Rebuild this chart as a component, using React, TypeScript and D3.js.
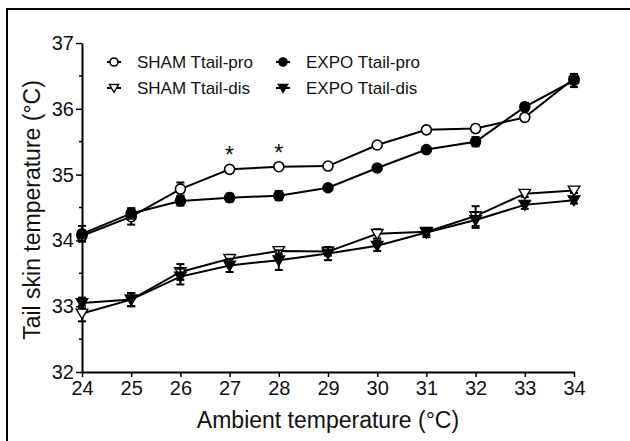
import { useEffect, useRef } from 'react'
import * as d3 from 'd3'

const ambient = [24, 25, 26, 27, 28, 29, 30, 31, 32, 33, 34]

const shamPro = [34.07, 34.36, 34.78, 35.08, 35.12, 35.13, 35.45, 35.68, 35.70, 35.87, 36.46]
const shamProErr = [0.08, 0.12, 0.1, 0.03, 0.03, 0.05, 0.03, 0.03, 0.05, 0.05, 0.06]
const expoPro = [34.1, 34.41, 34.6, 34.65, 34.68, 34.8, 35.1, 35.38, 35.5, 36.03, 36.43]
const expoProErr = [0.12, 0.08, 0.07, 0.06, 0.07, 0.03, 0.03, 0.03, 0.07, 0.06, 0.1]
const shamDis = [32.89, 33.1, 33.52, 33.72, 33.84, 33.83, 34.1, 34.13, 34.37, 34.71, 34.76]
const shamDisErr = [0.12, 0.1, 0.12, 0.05, 0.05, 0.06, 0.07, 0.05, 0.15, 0.05, 0.04]
const expoDis = [33.05, 33.1, 33.45, 33.62, 33.7, 33.8, 33.92, 34.12, 34.31, 34.54, 34.61]
const expoDisErr = [0.08, 0.1, 0.12, 0.1, 0.15, 0.1, 0.08, 0.07, 0.12, 0.06, 0.05]

const starAt = [27, 28]
const yTicks = [32, 33, 34, 35, 36, 37]
const yMinor = [32.5, 33.5, 34.5, 35.5, 36.5]

const series = [
  { name: 'SHAM Ttail-pro', values: shamPro, errs: shamProErr, shape: 'circle', filled: false },
  { name: 'SHAM Ttail-dis', values: shamDis, errs: shamDisErr, shape: 'triangle', filled: false },
  { name: 'EXPO Ttail-pro', values: expoPro, errs: expoProErr, shape: 'circle', filled: true },
  { name: 'EXPO Ttail-dis', values: expoDis, errs: expoDisErr, shape: 'triangle', filled: true },
]

const font = '"Liberation Sans", Arial, sans-serif'

const App = () => {
  const svgRef = useRef<SVGSVGElement | null>(null)

  useEffect(() => {
    if (!svgRef.current) return
    const svg = d3.select(svgRef.current)
    svg.selectAll('*').remove()

    // outer frame, cropped on right and bottom
    svg.append('rect')
      .attr('x', 7).attr('y', 9)
      .attr('width', 700).attr('height', 500)
      .attr('fill', 'white').attr('stroke', '#000').attr('stroke-width', 2)

    const x = d3.scaleLinear().domain([24, 34]).range([82, 574])
    const y = d3.scaleLinear().domain([32, 37]).range([372, 43])

    // y axis
    const yAxis = svg.append('g').attr('transform', 'translate(82,0)')
      .call(d3.axisLeft(y).tickValues(yTicks).tickSize(6).tickPadding(2).tickSizeOuter(0).tickFormat(d3.format('d')))
    yAxis.append('g').selectAll('line').data(yMinor).join('line')
      .attr('x1', -3).attr('x2', 0)
      .attr('y1', (d) => y(d)).attr('y2', (d) => y(d))
      .attr('stroke', '#000').attr('stroke-width', 1.5)

    // x axis
    const xAxis = svg.append('g').attr('transform', 'translate(0,372)')
      .call(d3.axisBottom(x).tickValues(ambient).tickSize(5).tickPadding(4).tickSizeOuter(0).tickFormat(d3.format('d')))

    for (const ax of [xAxis, yAxis]) {
      ax.select('.domain').attr('stroke', '#000').attr('stroke-width', 2)
      ax.selectAll('.tick line').attr('stroke', '#000').attr('stroke-width', 1.5)
      ax.selectAll('text')
        .style('font-size', '20px')
        .style('font-family', font)
        .style('fill', '#111')
    }

    // axis titles
    svg.append('text')
      .attr('x', 328).attr('y', 428)
      .attr('text-anchor', 'middle')
      .style('font-size', '23px').style('font-family', font).style('fill', '#111')
      .text('Ambient temperature (°C)')
    svg.append('text')
      .attr('transform', 'translate(40,210) rotate(-90)')
      .attr('text-anchor', 'middle')
      .style('font-size', '23px').style('font-family', font).style('fill', '#111')
      .text('Tail skin temperature (°C)')

    const drawMarker = (g: any, shape: string, filled: boolean, cx: number, cy: number, r: number) => {
      if (shape === 'circle') {
        g.append('circle')
          .attr('cx', cx).attr('cy', cy).attr('r', r)
          .attr('fill', filled ? '#000' : '#fff')
          .attr('stroke', '#000').attr('stroke-width', 1.6)
      } else {
        const s = r * 1.15
        g.append('path')
          .attr('d', `M${cx - s},${cy - s * 0.75}L${cx + s},${cy - s * 0.75}L${cx},${cy + s * 0.95}Z`)
          .attr('fill', filled ? '#000' : '#fff')
          .attr('stroke', '#000').attr('stroke-width', 1.4)
      }
    }

    const line = d3.line<number>()
      .x((_, i) => x(ambient[i]))
      .y((d) => y(d))

    series.forEach((s) => {
      const g = svg.append('g')
      // error bars
      s.values.forEach((v, i) => {
        const cx = x(ambient[i])
        const e = s.errs[i]
        g.append('line')
          .attr('x1', cx).attr('x2', cx)
          .attr('y1', y(v - e)).attr('y2', y(v + e))
          .attr('stroke', '#000').attr('stroke-width', 2)
        for (const end of [v - e, v + e]) {
          g.append('line')
            .attr('x1', cx - 4).attr('x2', cx + 4)
            .attr('y1', y(end)).attr('y2', y(end))
            .attr('stroke', '#000').attr('stroke-width', 2)
        }
      })
      g.append('path')
        .datum(s.values)
        .attr('d', line)
        .attr('fill', 'none')
        .attr('stroke', '#000')
        .attr('stroke-width', 2)
      s.values.forEach((v, i) => drawMarker(g, s.shape, s.filled, x(ambient[i]), y(v), 5))
    })

    // significance stars
    svg.selectAll('.star').data(starAt).join('text')
      .attr('class', 'star')
      .attr('x', (d) => x(d))
      .attr('y', (d) => y(shamPro[ambient.indexOf(d)]) - 6)
      .attr('text-anchor', 'middle')
      .style('font-size', '23px').style('font-family', font).style('fill', '#111')
      .text('*')

    // legend
    const legendCols = [114, 283]
    const legendRows = [62, 88]
    series.forEach((s, i) => {
      const cx = legendCols[i < 2 ? 0 : 1]
      const cy = legendRows[i % 2]
      const g = svg.append('g')
      g.append('line')
        .attr('x1', cx - 7).attr('x2', cx + 7)
        .attr('y1', cy).attr('y2', cy)
        .attr('stroke', '#000').attr('stroke-width', 2)
      drawMarker(g, s.shape, s.filled, cx, cy, 4)
      g.append('text')
        .attr('x', cx + 23).attr('y', cy)
        .attr('dy', '0.35em')
        .style('font-size', '17px').style('font-family', font).style('fill', '#111')
        .text(s.name)
    })
  }, [])

  return (
    <div style={{ position: 'absolute', left: 0, top: 0 }}>
      <svg ref={svgRef} width={630} height={441} style={{ display: 'block', background: '#fff' }} />
    </div>
  )
}

export default App
